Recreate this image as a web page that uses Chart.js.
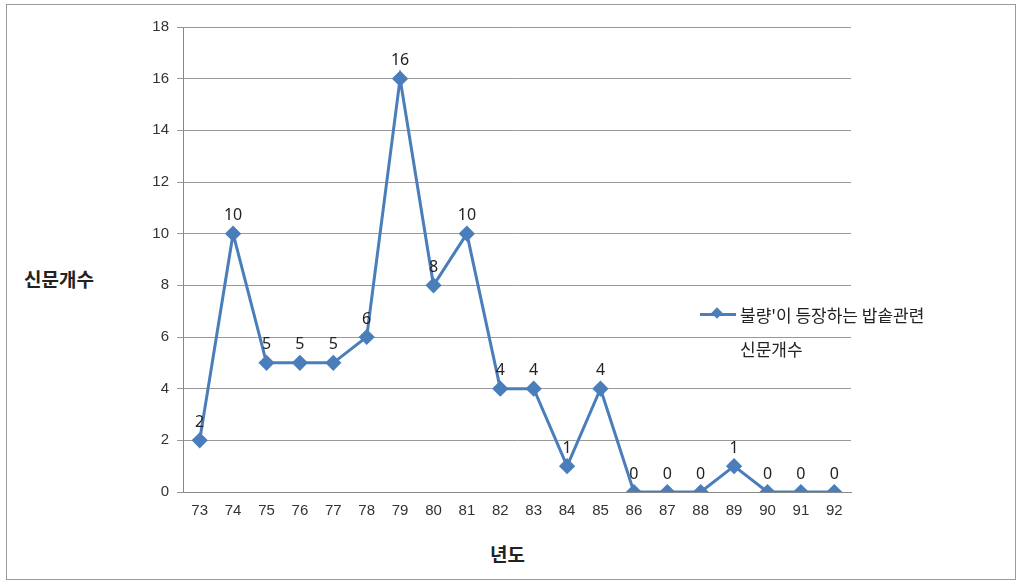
<!DOCTYPE html>
<html><head><meta charset="utf-8">
<script src="https://cdn.jsdelivr.net/npm/chart.js@4"></script>
<style>
body{margin:0;background:#fff;font-family:"Noto Sans CJK KR","Noto Sans",sans-serif;}
#frame{position:absolute;left:6px;top:4px;width:1008px;height:574px;border:1px solid #9a9a9a;}
#wrap{position:absolute;left:130px;top:10px;width:730px;height:520px;}
.t{position:absolute;color:#222;font-size:19px;font-weight:bold;}
#leg{position:absolute;left:700px;top:298px;font-size:17px;color:#222;line-height:34px;}
</style></head><body>
<div id="frame"></div>
<div id="wrap"><canvas id="c"></canvas></div>
<div class="t" style="left:24px;top:265px">신문개수</div>
<div class="t" style="left:490px;top:540px">년도</div>
<div id="leg"><span style="display:inline-block;width:36px;position:relative;top:-3px;height:3px;background:#4a7ebb;margin-right:4px;vertical-align:middle"><span style="position:absolute;left:13px;top:-4px;width:8px;height:8px;background:#4a7ebb;transform:rotate(45deg)"></span></span>불량'이 등장하는 밥솥관련<br><span style="padding-left:40px">신문개수</span></div>
<script>
const categories=["73","74","75","76","77","78","79","80","81","82","83","84","85","86","87","88","89","90","91","92"];
const values=[2,10,5,5,5,6,16,8,10,4,4,1,4,0,0,0,1,0,0,0];
const labelsPlugin={id:'lbl',afterDatasetsDraw(ch){const ctx=ch.ctx;const m=ch.getDatasetMeta(0);ctx.save();ctx.font='16px "Noto Sans","DejaVu Sans",sans-serif';ctx.fillStyle='#222';ctx.textAlign='center';ctx.textBaseline='bottom';m.data.forEach((p,i)=>ctx.fillText(values[i],p.x,p.y-10));ctx.restore();}};
new Chart(document.getElementById('c'),{
 type:'line',
 data:{labels:categories,datasets:[{data:values,borderColor:'#4a7ebb',backgroundColor:'#4a7ebb',borderWidth:3,pointStyle:'rectRot',pointRadius:6,pointHoverRadius:6,tension:0}]},
 options:{
  responsive:true,maintainAspectRatio:false,animation:false,
  layout:{padding:{top:2,right:0}},
  plugins:{legend:{display:false},tooltip:{enabled:false}},
  scales:{
   x:{offset:true,grid:{display:false,drawTicks:false},border:{color:'#888'},ticks:{color:'#333',font:{size:15},padding:10}},
   y:{min:0,max:18,ticks:{stepSize:2,color:'#333',font:{size:15},padding:8},grid:{color:'#999',drawTicks:true,tickLength:6},border:{color:'#888'},afterFit(s){s.width=53;}}
  }
 },
 plugins:[labelsPlugin]
});
</script></body></html>
